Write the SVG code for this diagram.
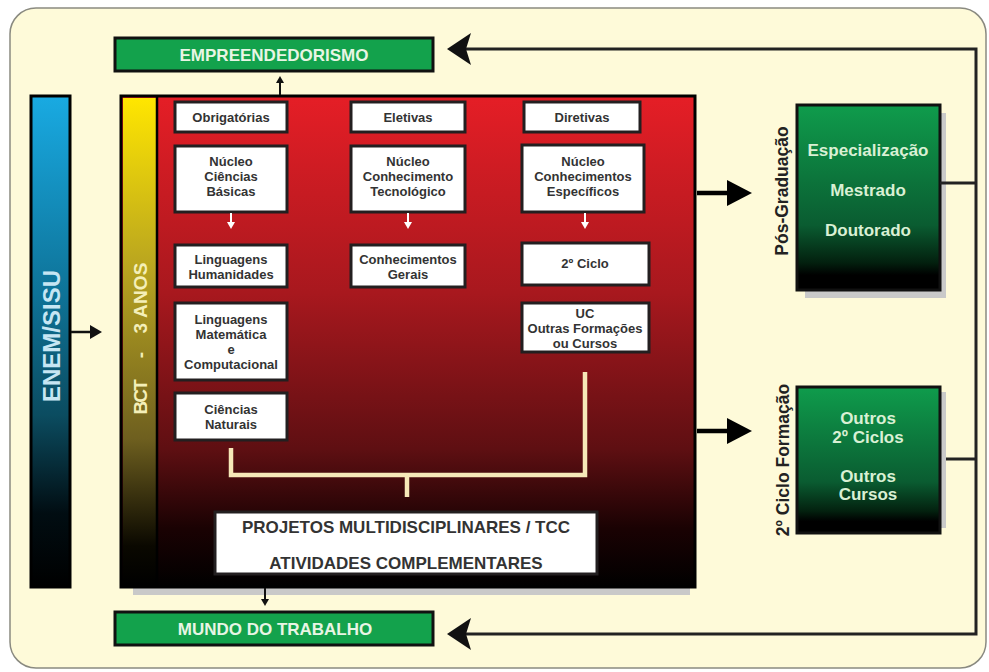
<svg xmlns="http://www.w3.org/2000/svg" width="989" height="672" viewBox="0 0 989 672">
<defs>
<linearGradient id="gRed" x1="0" y1="0" x2="0" y2="1">
<stop offset="0" stop-color="#e51e26"/>
<stop offset="0.4" stop-color="#a8181e"/>
<stop offset="0.72" stop-color="#5e0f12"/>
<stop offset="0.88" stop-color="#1a0203"/>
<stop offset="1" stop-color="#000"/>
</linearGradient>
<linearGradient id="gYel" x1="0" y1="0" x2="0" y2="1">
<stop offset="0" stop-color="#ffe600"/>
<stop offset="0.35" stop-color="#b8a420"/>
<stop offset="0.7" stop-color="#6e5f1f"/>
<stop offset="0.92" stop-color="#0a0800"/>
<stop offset="1" stop-color="#000"/>
</linearGradient>
<linearGradient id="gBlue" x1="0" y1="0" x2="0" y2="1">
<stop offset="0" stop-color="#19aae2"/>
<stop offset="0.4" stop-color="#0e7398"/>
<stop offset="0.65" stop-color="#0b4c60"/>
<stop offset="0.85" stop-color="#010d12"/>
<stop offset="1" stop-color="#000"/>
</linearGradient>
<linearGradient id="gGreen" x1="0" y1="0" x2="0" y2="1">
<stop offset="0" stop-color="#0f9c4c"/>
<stop offset="0.65" stop-color="#0a5c31"/>
<stop offset="0.85" stop-color="#03210f"/>
<stop offset="0.92" stop-color="#000"/>
<stop offset="1" stop-color="#000"/>
</linearGradient>
<style>
.wb{fill:#fff;stroke:#231f20;stroke-width:3}
.wt{font-family:"Liberation Sans",Arial,sans-serif;font-weight:bold;font-size:13px;fill:#333;text-anchor:middle}
.hb{fill:#13a24c;stroke:#111;stroke-width:3}
.ht{font-family:"Liberation Sans",Arial,sans-serif;font-weight:bold;font-size:17px;fill:#e8f5e4;text-anchor:middle}
.gt{font-family:"Liberation Sans",Arial,sans-serif;font-weight:bold;font-size:17px;fill:#d9f0d4;text-anchor:middle}
.rt{font-family:"Liberation Sans",Arial,sans-serif;font-weight:bold;font-size:17.5px;fill:#222;text-anchor:middle}
.pt{font-family:"Liberation Sans",Arial,sans-serif;font-weight:bold;font-size:17px;fill:#333;text-anchor:middle}
.ln{stroke:#222;stroke-width:3;fill:none}
.br{stroke:#f6e8b8;stroke-width:4.5;fill:none}
.wa{stroke:#fff;stroke-width:2;fill:none}
</style>
</defs>
<rect x="10" y="8" width="976" height="660" rx="26" fill="#fefad9" stroke="#8a8a80" stroke-width="1.5"/>

<g id="enem">
<rect x="31" y="96" width="39" height="491" fill="url(#gBlue)" stroke="#000" stroke-width="3"/>
<text transform="translate(60,336) rotate(-90)" font-family="Liberation Sans, Arial, sans-serif" font-weight="bold" font-size="24" fill="#c6e6f3" text-anchor="middle">ENEM/SISU</text>
</g>

<g id="bct">
<rect x="133" y="108" width="557" height="487" fill="#c9c9c9"/>
<rect x="121" y="96" width="574" height="491" fill="url(#gRed)" stroke="#000" stroke-width="3"/>
<rect x="123" y="98" width="33" height="487" fill="url(#gYel)"/>
<line x1="157" y1="97" x2="157" y2="586" stroke="#000" stroke-width="2.5"/>
<g font-family="Liberation Sans, Arial, sans-serif" font-weight="bold" font-size="19" fill="#f4efb8" text-anchor="middle">
<text transform="translate(147,397) rotate(-90)" textLength="35">BCT</text>
<text transform="translate(147,355) rotate(-90)">-</text>
<text transform="translate(147,298) rotate(-90)" textLength="71">3 ANOS</text>
</g>
</g>

<g id="obrigatorias"><rect class="wb" x="175" y="102" width="112" height="30"/><text class="wt" x="231" y="121.5">Obrigatórias</text></g>
<g id="eletivas"><rect class="wb" x="351" y="102" width="114" height="30"/><text class="wt" x="408" y="121.5">Eletivas</text></g>
<g id="diretivas"><rect class="wb" x="524" y="102" width="116" height="30"/><text class="wt" x="582" y="121.5">Diretivas</text></g>

<g id="nucleo-cb"><rect class="wb" x="175" y="146" width="112" height="66"/>
<text class="wt" x="231" y="166">Núcleo</text><text class="wt" x="231" y="181">Ciências</text><text class="wt" x="231" y="196">Básicas</text></g>
<g id="nucleo-ct"><rect class="wb" x="351" y="146" width="114" height="66"/>
<text class="wt" x="408" y="166">Núcleo</text><text class="wt" x="408" y="181">Conhecimento</text><text class="wt" x="408" y="196">Tecnológico</text></g>
<g id="nucleo-ce"><rect class="wb" x="522" y="145" width="122" height="67"/>
<text class="wt" x="583" y="166">Núcleo</text><text class="wt" x="583" y="181">Conhecimentos</text><text class="wt" x="583" y="196">Específicos</text></g>

<g id="ling-hum"><rect class="wb" x="175" y="245" width="112" height="42"/>
<text class="wt" x="231" y="264">Linguagens</text><text class="wt" x="231" y="279">Humanidades</text></g>
<g id="conh-gerais"><rect class="wb" x="351" y="245" width="114" height="42"/>
<text class="wt" x="408" y="264">Conhecimentos</text><text class="wt" x="408" y="279">Gerais</text></g>
<g id="ciclo2"><rect class="wb" x="522" y="243" width="127" height="42"/>
<text class="wt" x="585" y="268">2º Ciclo</text></g>

<g id="ling-mat"><rect class="wb" x="175" y="303" width="112" height="77"/>
<text class="wt" x="231" y="323.5">Linguagens</text><text class="wt" x="231" y="338.5">Matemática</text><text class="wt" x="231" y="353.5">e</text><text class="wt" x="231" y="368.5">Computacional</text></g>
<g id="uc"><rect class="wb" x="522" y="303" width="127" height="49"/>
<text class="wt" x="585" y="317.5">UC</text><text class="wt" x="585" y="332.5">Outras Formações</text><text class="wt" x="585" y="347.5">ou Cursos</text></g>
<g id="cien-nat"><rect class="wb" x="175" y="393" width="112" height="47"/>
<text class="wt" x="231" y="413.5">Ciências</text><text class="wt" x="231" y="428.5">Naturais</text></g>

<g id="projetos"><rect class="wb" x="215" y="512" width="382" height="62"/>
<text class="pt" x="406" y="533">PROJETOS MULTIDISCIPLINARES / TCC</text>
<text class="pt" x="406" y="569">ATIVIDADES COMPLEMENTARES</text></g>

<g id="empreendedorismo"><rect class="hb" x="115" y="38" width="318" height="33"/><text class="ht" x="274" y="61">EMPREENDEDORISMO</text></g>
<g id="mundo"><rect class="hb" x="115" y="612" width="318" height="33"/><text class="ht" x="275" y="635">MUNDO DO TRABALHO</text></g>

<g id="pos">
<rect x="805" y="113" width="141" height="185" fill="#c9c9c9"/>
<rect x="797" y="105" width="143" height="185" fill="url(#gGreen)" stroke="#111" stroke-width="3"/>
<text class="gt" x="868" y="156">Especialização</text>
<text class="gt" x="868" y="196">Mestrado</text>
<text class="gt" x="868" y="236">Doutorado</text>
<text class="rt" transform="translate(788,191) rotate(-90)">Pós-Graduação</text>
</g>

<g id="ciclo-formacao">
<rect x="803" y="392" width="143" height="136" fill="#c9c9c9"/>
<rect x="797" y="387" width="143" height="146" fill="url(#gGreen)" stroke="#111" stroke-width="3"/>
<text class="gt" x="868" y="424" font-size="16.5">Outros</text>
<text class="gt" x="868" y="443" font-size="16.5">2º Ciclos</text>
<text class="gt" x="868" y="482" font-size="16.5">Outros</text>
<text class="gt" x="868" y="500" font-size="16.5">Cursos</text>
<text class="rt" transform="translate(789,460) rotate(-90)">2º Ciclo Formação</text>
</g>

<g id="connectors">
<!-- inner white arrows -->
<line class="wa" x1="231" y1="213" x2="231" y2="224"/><polygon points="227,222 235,222 231,229" fill="#fff"/>
<line class="wa" x1="408" y1="213" x2="408" y2="224"/><polygon points="404,222 412,222 408,229" fill="#fff"/>
<line class="wa" x1="585" y1="213" x2="585" y2="224"/><polygon points="581,222 589,222 585,229" fill="#fff"/>
<!-- bracket -->
<polyline class="br" points="231,448 231,475 585,475 585,372"/>
<line class="br" x1="407" y1="475" x2="407" y2="497"/>
<!-- small black arrows -->
<line x1="280" y1="95" x2="280" y2="82" stroke="#111" stroke-width="2"/><polygon points="276,83 284,83 280,76" fill="#111"/>
<line x1="265" y1="588" x2="265" y2="600" stroke="#111" stroke-width="2"/><polygon points="261,599 269,599 265,606" fill="#111"/>
<!-- enem arrow -->
<line x1="71" y1="332" x2="92" y2="332" stroke="#111" stroke-width="2.5"/><polygon points="90,325 102,332 90,339" fill="#111"/>
<!-- big arrows to the right -->
<line x1="697" y1="193" x2="730" y2="193" stroke="#000" stroke-width="4.5"/><polygon points="727,180 752,193 727,206" fill="#000"/>
<line x1="697" y1="431" x2="730" y2="431" stroke="#000" stroke-width="4.5"/><polygon points="727,418 752,431 727,444" fill="#000"/>
<!-- feedback loop -->
<line class="ln" x1="940" y1="183" x2="976" y2="183"/>
<line class="ln" x1="946" y1="459" x2="976" y2="459"/>
<polyline class="ln" points="466,49 976,49 976,634 466,634"/>
<polygon points="447,49 471,33 466,49 471,65" fill="#111"/>
<polygon points="447,634 471,618 466,634 471,650" fill="#111"/>
</g>
</svg>
